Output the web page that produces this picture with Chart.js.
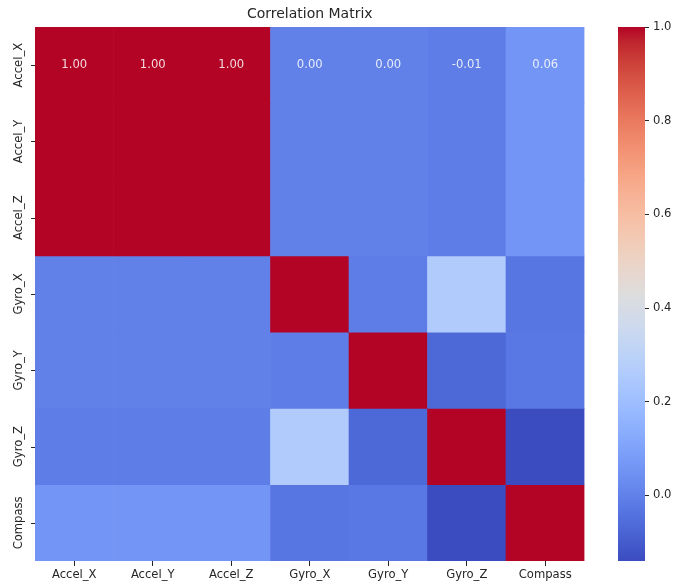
<!DOCTYPE html>
<html>
<head>
<meta charset="utf-8">
<script src="https://cdn.jsdelivr.net/npm/chart.js@4.4.0/dist/chart.umd.min.js"></script>
<style>
  html, body { margin: 0; padding: 0; background: #fff; }
  #wrap { position: relative; width: 676px; height: 587px; }
  #heat { position: absolute; left: 0; top: 0; }
  #cbar { position: absolute; left: 600px; top: 0; }
</style>
</head>
<body>
<div id="wrap">
  <canvas id="heat" width="600" height="587"></canvas>
  <canvas id="cbar" width="76" height="587"></canvas>
</div>
<script>
// Variables (rows and columns of the matrix)
const variables = ['Accel_X', 'Accel_Y', 'Accel_Z', 'Gyro_X', 'Gyro_Y', 'Gyro_Z', 'Compass'];

// Correlation rows
const accelX  = [1.00, 1.00, 1.00, 0.00, 0.00, -0.01, 0.06];
const accelY  = [1.00, 1.00, 1.00, 0.00, 0.00, -0.01, 0.06];
const accelZ  = [1.00, 1.00, 1.00, 0.00, 0.00, -0.01, 0.06];
const gyroX   = [0.00, 0.00, 0.00, 1.00, -0.01, 0.26, -0.03];
const gyroY   = [0.00, 0.00, 0.00, -0.01, 1.00, -0.07, -0.025];
const gyroZ   = [-0.01, -0.01, -0.01, 0.26, -0.07, 1.00, -0.14];
const compass = [0.06, 0.06, 0.06, -0.03, -0.025, -0.14, 1.00];
const matrix = [accelX, accelY, accelZ, gyroX, gyroY, gyroZ, compass];

// Only the first row carries printed values in the picture
const annotatedRows = [0];

// Colorbar ticks
const cbarTicks = [0.0, 0.2, 0.4, 0.6, 0.8, 1.0];

const vmin = Math.min(...matrix.flat());
const vmax = Math.max(...matrix.flat());

// matplotlib "coolwarm", 33 evenly spaced stops
const coolwarmStops = [
  [59,76,192],[68,90,204],[77,104,215],[87,117,225],[98,130,234],[108,142,241],
  [119,154,247],[130,165,251],[141,176,254],[152,185,255],[163,194,255],[174,201,253],
  [184,208,249],[194,213,244],[204,217,238],[213,219,230],[221,221,221],[229,216,209],
  [236,211,197],[241,204,184],[245,196,172],[247,187,160],[247,177,148],[247,166,135],
  [244,154,123],[241,141,111],[236,127,99],[229,112,88],[222,96,77],[213,80,66],
  [203,62,56],[192,40,47],[180,4,38]
];

function coolwarm(t) {
  t = Math.max(0, Math.min(1, t));
  const p = t * (coolwarmStops.length - 1);
  const i = Math.min(Math.floor(p), coolwarmStops.length - 2);
  const f = p - i;
  const a = coolwarmStops[i], b = coolwarmStops[i + 1];
  const c = a.map((v, k) => Math.round(v + (b[k] - v) * f));
  return `rgb(${c[0]},${c[1]},${c[2]})`;
}

const FONT = "'DejaVu Sans', sans-serif";
const TEXT = '#262626';

// One dataset per row, each cell a floating bar spanning [row, row + 1]
const datasets = matrix.map((row, r) => ({
  label: variables[r],
  data: row.map(() => [r, r + 1]),
  backgroundColor: row.map(v => coolwarm((v - vmin) / (vmax - vmin))),
  borderWidth: 0,
  grouped: false,
  barPercentage: 1,
  categoryPercentage: 1
}));

// Title, y labels, y ticks and the first-row annotations
const heatDecor = {
  id: 'heatDecor',
  afterDraw(chart) {
    const { ctx, chartArea, scales } = chart;
    const y = scales.y, x = scales.x;
    ctx.save();

    ctx.fillStyle = TEXT;
    ctx.font = `14px ${FONT}`;
    ctx.textAlign = 'center';
    ctx.textBaseline = 'middle';
    ctx.fillText('Correlation Matrix', (chartArea.left + chartArea.right) / 2, 14);

    ctx.font = `11.6px ${FONT}`;
    variables.forEach((name, r) => {
      const py = y.getPixelForValue(r + 0.5);
      ctx.strokeStyle = TEXT;
      ctx.lineWidth = 1;
      ctx.beginPath();
      ctx.moveTo(chartArea.left - 4, Math.round(py) + 0.5);
      ctx.lineTo(chartArea.left, Math.round(py) + 0.5);
      ctx.stroke();

      ctx.save();
      ctx.translate(chartArea.left - 16, py);
      ctx.rotate(-Math.PI / 2);
      ctx.fillStyle = TEXT;
      ctx.textAlign = 'center';
      ctx.textBaseline = 'middle';
      ctx.fillText(name, 0, 0);
      ctx.restore();
    });

    ctx.fillStyle = 'rgba(255,255,255,0.85)';
    ctx.textAlign = 'center';
    ctx.textBaseline = 'middle';
    annotatedRows.forEach(r => {
      const py = y.getPixelForValue(r + 0.5);
      matrix[r].forEach((v, c) => {
        ctx.fillText(v.toFixed(2), x.getPixelForValue(c), py);
      });
    });
    ctx.restore();
  }
};

new Chart(document.getElementById('heat'), {
  type: 'bar',
  data: { labels: variables, datasets },
  options: {
    responsive: false,
    animation: false,
    layout: { padding: { left: 35, right: 15.5, top: 27, bottom: 0 } },
    plugins: { legend: { display: false }, tooltip: { enabled: false } },
    scales: {
      x: {
        type: 'category',
        offset: true,
        border: { display: false },
        grid: { display: true, drawOnChartArea: false, tickLength: 5, tickColor: TEXT, offset: false },
        ticks: { color: TEXT, font: { family: FONT, size: 11.6 }, padding: 2, maxRotation: 0 },
        afterFit(scale) { scale.height = 26; }
      },
      y: {
        type: 'linear',
        min: 0,
        max: variables.length,
        reverse: true,
        display: false
      }
    }
  },
  plugins: [heatDecor]
});

// Colorbar: a single floating bar filled with the colormap gradient
new Chart(document.getElementById('cbar'), {
  type: 'bar',
  data: {
    labels: [''],
    datasets: [{
      data: [[vmin, vmax]],
      borderWidth: 0,
      barPercentage: 1,
      categoryPercentage: 1,
      backgroundColor(ctx) {
        const area = ctx.chart.chartArea;
        if (!area) return '#888';
        const g = ctx.chart.ctx.createLinearGradient(0, area.bottom, 0, area.top);
        coolwarmStops.forEach((c, i) => {
          g.addColorStop(i / (coolwarmStops.length - 1), `rgb(${c[0]},${c[1]},${c[2]})`);
        });
        return g;
      }
    }]
  },
  options: {
    responsive: false,
    animation: false,
    layout: { padding: { left: 18, right: 0, top: 27, bottom: 26 } },
    plugins: { legend: { display: false }, tooltip: { enabled: false } },
    scales: {
      x: { display: false },
      y: {
        position: 'right',
        min: vmin,
        max: vmax,
        border: { display: false },
        grid: { display: true, drawOnChartArea: false, tickLength: 4, tickColor: TEXT },
        afterBuildTicks(scale) { scale.ticks = cbarTicks.map(v => ({ value: v })); },
        ticks: {
          color: TEXT,
          font: { family: FONT, size: 11.6 },
          padding: 4,
          callback: v => v.toFixed(1)
        },
        afterFit(scale) { scale.width = 31; }
      }
    }
  }
});
</script>
</body>
</html>
